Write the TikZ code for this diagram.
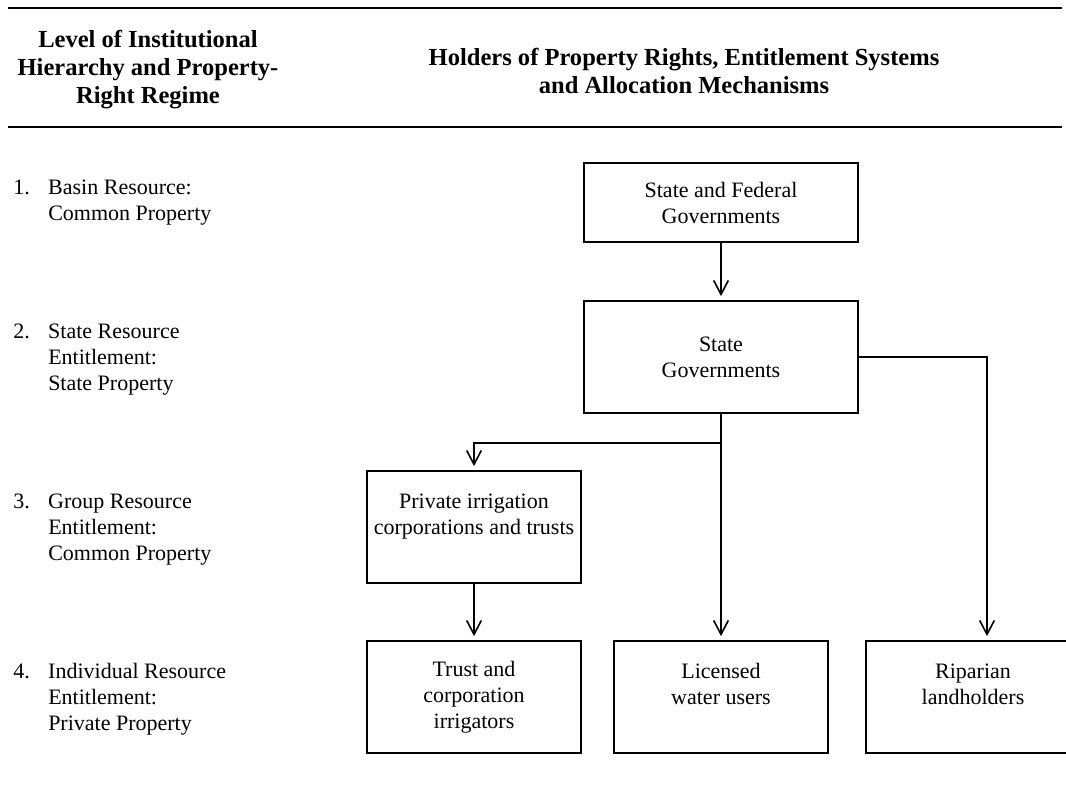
\documentclass[tikz,border=0pt]{standalone}
\usepackage{fontspec}
\setmainfont{Liberation Serif}
\usetikzlibrary{arrows.meta}

\newcommand{\bodyfont}{\fontsize{16.5}{19.5}\selectfont}
\newcommand{\hdrfont}{\fontsize{18.4}{21}\selectfont\bfseries}

\begin{document}
\begin{tikzpicture}[x=0.75pt,y=-0.75pt,
  box/.style={draw,line width=1.3pt,align=center,inner sep=0pt,font=\bodyfont},
  hdr/.style={align=center,inner sep=0pt,font=\hdrfont},
  lvl/.style={anchor=north west,inner sep=0pt,font=\bodyfont},
  arr/.style={-{Straight Barb[length=10.5pt,width=11pt]},line width=1.2pt,shorten >=3pt}]
 \useasboundingbox (0,0) rectangle (1066,808);
 % Table head
 \draw[line width=1.8pt] (8,8) -- (1062,8);
 \draw[line width=1.8pt] (8,127) -- (1062,127);
 \node[hdr] (hleft) at (148,70) {Level of Institutional\\Hierarchy and Property-\\Right Regime};
 \node[hdr] (hright) at (684,71) {Holders of Property Rights, Entitlement Systems\\and Allocation Mechanisms};
 % Levels of the hierarchy
 \node[lvl] (lvl1) at (13,176) {\begin{tabular}{@{}p{26.25pt}@{}l@{}}1. & Basin Resource:\\ & Common Property\end{tabular}};
 \node[lvl] (lvl2) at (13,320) {\begin{tabular}{@{}p{26.25pt}@{}l@{}}2. & State Resource\\ & Entitlement:\\ & State Property\end{tabular}};
 \node[lvl] (lvl3) at (13,490) {\begin{tabular}{@{}p{26.25pt}@{}l@{}}3. & Group Resource\\ & Entitlement:\\ & Common Property\end{tabular}};
 \node[lvl] (lvl4) at (13,660) {\begin{tabular}{@{}p{26.25pt}@{}l@{}}4. & Individual Resource\\ & Entitlement:\\ & Private Property\end{tabular}};
 % Holders of rights
 \node[box,minimum width=205.5pt,minimum height=59.25pt] (fedgov) at (721,202.5) {State and Federal\\Governments};
 \node[box,minimum width=205.5pt,minimum height=84pt] (stgov) at (721,357) {State\\Governments};
 \node[box,minimum width=160.5pt,minimum height=84pt] (privirr) at (474,527) {Private irrigation\\corporations and trusts\\ \mbox{}};
 \node[box,minimum width=160.5pt,minimum height=84pt] (trustirr) at (474,697) {Trust and\\corporation\\irrigators};
 \node[box,minimum width=160pt,minimum height=84pt] (licusers) at (721,697) {Licensed\\water users\\ \mbox{}};
 \node[box,minimum width=160.5pt,minimum height=84pt] (riparian) at (973,697) {Riparian\\landholders\\ \mbox{}};
 \draw[arr] (fedgov) -- (stgov);
 \draw[arr] (stgov) -- (licusers);
 \draw[arr] (stgov.south) -- ++(0,29) -| (privirr.north);
 \draw[arr] (stgov.east) -| ([xshift=10.5pt]riparian.north);
 \draw[arr] (privirr) -- (trustirr);
\end{tikzpicture}
\end{document}
